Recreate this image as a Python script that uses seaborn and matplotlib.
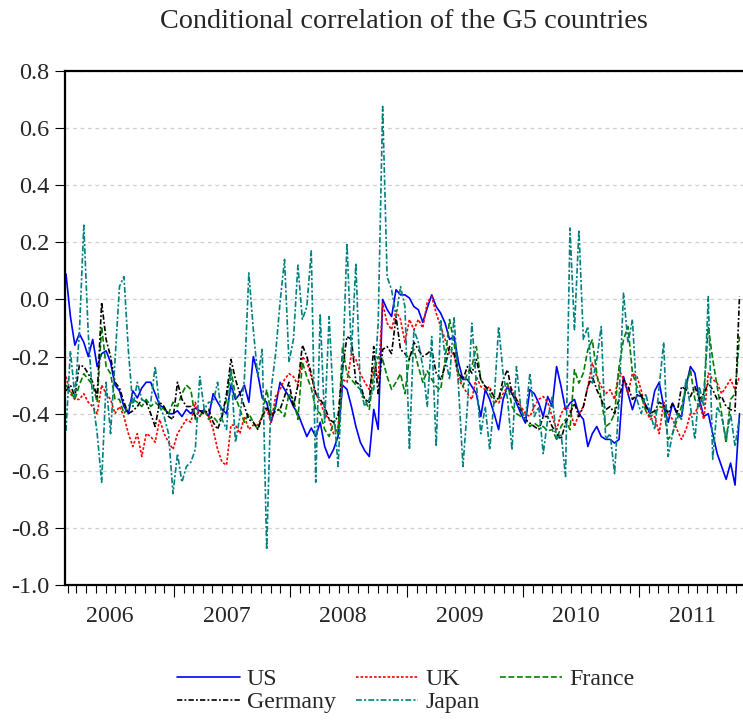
import numpy as np
import pandas as pd
import matplotlib
matplotlib.use("Agg")
import matplotlib.pyplot as plt
import matplotlib.dates as mdates
import seaborn as sns

# chart data (biweekly readings, late Jan 2006 - Nov 2011)
dates = pd.date_range(start="2006-01-27", periods=152, freq="14D")

us = [0.09, -0.06, -0.16, -0.12, -0.15, -0.20, -0.14, -0.235, -0.19, -0.18,
      -0.22, -0.30, -0.32, -0.375, -0.40, -0.32, -0.345, -0.31, -0.29, -0.29,
      -0.33, -0.37, -0.38, -0.40, -0.40, -0.39, -0.41, -0.385, -0.40, -0.38,
      -0.39, -0.39, -0.41, -0.33, -0.36, -0.385, -0.40, -0.30, -0.35, -0.33,
      -0.30, -0.36, -0.20, -0.26, -0.345, -0.36, -0.43, -0.375, -0.29, -0.315,
      -0.34, -0.375, -0.40, -0.44, -0.48, -0.45, -0.48, -0.43, -0.515, -0.555,
      -0.525, -0.48, -0.30, -0.315, -0.375, -0.445, -0.50, -0.53, -0.55, -0.385,
      -0.455, 0.0, -0.035, -0.06, 0.034, 0.016, 0.016, 0.005, -0.025, -0.036,
      -0.08, -0.03, 0.016, -0.025, -0.048, -0.083, -0.14, -0.13, -0.22, -0.28,
      -0.28, -0.305, -0.33, -0.41, -0.316, -0.35, -0.40, -0.456, -0.35, -0.305,
      -0.33, -0.363, -0.40, -0.433, -0.316, -0.33, -0.363, -0.41, -0.34, -0.375,
      -0.235, -0.305, -0.386, -0.363, -0.35, -0.40, -0.42, -0.515, -0.47, -0.445,
      -0.48, -0.49, -0.49, -0.503, -0.49, -0.27, -0.33, -0.386, -0.335, -0.34,
      -0.37, -0.40, -0.32, -0.29, -0.375, -0.43, -0.363, -0.40, -0.41, -0.305,
      -0.235, -0.258, -0.35, -0.41, -0.40, -0.47, -0.54, -0.585, -0.63, -0.573,
      -0.65, -0.40]

uk = [-0.27, -0.33, -0.35, -0.35, -0.33, -0.36, -0.375, -0.40, -0.30, -0.33,
      -0.35, -0.40, -0.375, -0.41, -0.47, -0.515, -0.47, -0.55, -0.47, -0.48,
      -0.50, -0.42, -0.47, -0.50, -0.525, -0.47, -0.445, -0.42, -0.43, -0.36,
      -0.41, -0.385, -0.41, -0.455, -0.525, -0.57, -0.58, -0.44, -0.44, -0.47,
      -0.41, -0.455, -0.44, -0.44, -0.41, -0.385, -0.43, -0.34, -0.315, -0.28,
      -0.26, -0.27, -0.30, -0.20, -0.22, -0.27, -0.33, -0.36, -0.40, -0.42,
      -0.47, -0.445, -0.28, -0.29, -0.19, -0.21, -0.26, -0.29, -0.315, -0.235,
      -0.28, -0.013, -0.083, -0.106, -0.04, -0.07, -0.15, -0.07, -0.106, -0.07,
      -0.10, -0.01, 0.01, -0.048, -0.095, -0.14, -0.19, -0.19, -0.28, -0.305,
      -0.33, -0.35, -0.27, -0.305, -0.316, -0.305, -0.35, -0.363, -0.33, -0.305,
      -0.316, -0.35, -0.375, -0.40, -0.41, -0.375, -0.35, -0.34, -0.36, -0.41,
      -0.456, -0.40, -0.375, -0.386, -0.445, -0.40, -0.375, -0.305, -0.223, -0.27,
      -0.305, -0.33, -0.316, -0.35, -0.246, -0.28, -0.33, -0.258, -0.27, -0.32,
      -0.39, -0.42, -0.41, -0.47, -0.36, -0.40, -0.42, -0.456, -0.49, -0.456,
      -0.40, -0.40, -0.363, -0.42, -0.258, -0.28, -0.293, -0.33, -0.305, -0.28,
      -0.316, -0.27]

france = [-0.30, -0.32, -0.35, -0.30, -0.26, -0.28, -0.30, -0.36, -0.095, -0.235,
          -0.26, -0.35, -0.35, -0.40, -0.375, -0.35, -0.36, -0.375, -0.35, -0.375,
          -0.36, -0.375, -0.385, -0.40, -0.36, -0.375, -0.33, -0.30, -0.315, -0.42,
          -0.41, -0.385, -0.42, -0.41, -0.43, -0.41, -0.35, -0.245, -0.34, -0.385,
          -0.43, -0.40, -0.43, -0.455, -0.41, -0.315, -0.40, -0.375, -0.39, -0.41,
          -0.33, -0.35, -0.42, -0.22, -0.27, -0.31, -0.385, -0.40, -0.455, -0.48,
          -0.43, -0.47, -0.165, -0.26, -0.28, -0.30, -0.315, -0.35, -0.385, -0.26,
          -0.20, -0.21, -0.27, -0.315, -0.29, -0.26, -0.33, -0.20, -0.175, -0.235,
          -0.29, -0.25, -0.28, -0.305, -0.316, -0.21, -0.07, -0.153, -0.258, -0.305,
          -0.258, -0.235, -0.165, -0.28, -0.305, -0.33, -0.363, -0.35, -0.305, -0.293,
          -0.375, -0.40, -0.41, -0.42, -0.445, -0.433, -0.445, -0.445, -0.46, -0.456,
          -0.49, -0.445, -0.42, -0.456, -0.246, -0.293, -0.258, -0.176, -0.141, -0.258,
          -0.35, -0.445, -0.433, -0.40, -0.235, -0.141, -0.095, -0.258, -0.305, -0.34,
          -0.39, -0.41, -0.40, -0.375, -0.38, -0.49, -0.47, -0.42, -0.375, -0.305,
          -0.246, -0.35, -0.375, -0.33, -0.095, -0.21, -0.305, -0.40, -0.503, -0.35,
          -0.33, -0.13]

germany = [-0.32, -0.30, -0.34, -0.23, -0.235, -0.26, -0.29, -0.34, -0.01, -0.14,
           -0.20, -0.29, -0.31, -0.36, -0.40, -0.39, -0.375, -0.35, -0.36, -0.40,
           -0.445, -0.36, -0.375, -0.41, -0.42, -0.29, -0.35, -0.375, -0.375, -0.41,
           -0.39, -0.40, -0.385, -0.43, -0.455, -0.41, -0.33, -0.21, -0.28, -0.33,
           -0.375, -0.42, -0.43, -0.455, -0.41, -0.375, -0.41, -0.39, -0.385, -0.34,
           -0.29, -0.375, -0.30, -0.16, -0.20, -0.26, -0.33, -0.35, -0.375, -0.42,
           -0.43, -0.41, -0.245, -0.13, -0.14, -0.29, -0.30, -0.35, -0.36, -0.165,
           -0.33, -0.175, -0.165, -0.19, -0.06, -0.175, -0.19, -0.21, -0.15, -0.175,
           -0.20, -0.19, -0.176, -0.258, -0.28, -0.235, -0.165, -0.19, -0.258, -0.28,
           -0.235, -0.258, -0.21, -0.28, -0.305, -0.316, -0.34, -0.35, -0.28, -0.246,
           -0.33, -0.35, -0.386, -0.42, -0.433, -0.445, -0.456, -0.41, -0.41, -0.445,
           -0.47, -0.49, -0.433, -0.40, -0.363, -0.41, -0.375, -0.305, -0.27, -0.316,
           -0.35, -0.386, -0.375, -0.40, -0.35, -0.28, -0.305, -0.35, -0.335, -0.335,
           -0.375, -0.40, -0.39, -0.36, -0.37, -0.40, -0.363, -0.40, -0.305, -0.316,
           -0.34, -0.305, -0.35, -0.33, -0.293, -0.316, -0.35, -0.34, -0.375, -0.386,
           -0.39, 0.01]

japan = [-0.46, -0.18, -0.34, -0.12, 0.26, -0.12, -0.35, -0.47, -0.64, -0.29,
         -0.47, -0.21, 0.045, 0.08, -0.18, -0.375, -0.29, -0.35, -0.36, -0.36,
         -0.235, -0.375, -0.41, -0.47, -0.68, -0.54, -0.64, -0.585, -0.57, -0.525,
         -0.27, -0.385, -0.36, -0.36, -0.29, -0.42, -0.455, -0.245, -0.50, -0.41,
         -0.28, 0.093, -0.105, -0.27, -0.175, -0.876, -0.315, -0.19, -0.01, 0.14,
         -0.22, -0.14, 0.12, -0.07, -0.025, 0.17, -0.64, -0.05, -0.43, -0.06,
         -0.375, -0.585, -0.26, 0.197, -0.19, 0.127, -0.315, -0.375, -0.35, -0.315,
         -0.083, 0.676, 0.08, 0.034, -0.06, 0.045, -0.025, -0.526, -0.106, -0.15,
         -0.235, -0.375, -0.13, -0.515, -0.07, -0.20, -0.28, -0.06, -0.305, -0.585,
         -0.375, -0.083, -0.293, -0.47, -0.375, -0.527, -0.35, -0.095, -0.258, -0.35,
         -0.527, -0.235, -0.386, -0.42, -0.258, -0.41, -0.375, -0.54, -0.42, -0.34,
         -0.49, -0.47, -0.62, 0.25, -0.106, 0.244, -0.14, -0.095, -0.293, -0.21,
         -0.095, -0.49, -0.47, -0.61, -0.35, 0.022, -0.153, -0.07, -0.35, -0.40,
         -0.33, -0.40, -0.456, -0.305, -0.15, -0.55, -0.47, -0.40, -0.42, -0.28,
         -0.375, -0.49, -0.305, -0.375, 0.01, -0.56, -0.375, -0.41, -0.49, -0.40,
         -0.515, -0.41]

countries = ["US", "UK", "France", "Germany", "Japan"]
year_labels = ["2006", "2007", "2008", "2009", "2010", "2011"]
y_ticks = [-1.0, -0.8, -0.6, -0.4, -0.2, 0.0, 0.2, 0.4, 0.6, 0.8]

colors = {"US": "#0000ff", "UK": "#ff0000", "France": "#008000",
          "Germany": "#000000", "Japan": "#008080"}
dash_map = {"US": "", "UK": (1.6, 1.1), "France": (3.5, 1.6),
            "Germany": (3.2, 1.3, 1.1, 1.3), "Japan": (3.5, 1.3, 1.3, 1.3)}

df = pd.concat([
    pd.DataFrame({"date": dates, "corr": vals, "country": name})
    for name, vals in zip(countries, [us, uk, france, germany, japan])
], ignore_index=True)

sns.set_style("white")
plt.rcParams["font.family"] = ["Liberation Serif", "DejaVu Serif"]
plt.rcParams["axes.unicode_minus"] = False

fig = plt.figure(figsize=(7.43, 7.21), dpi=100)
ax = fig.add_axes([65 / 743, 1 - 585 / 721, 1 - 65 / 743, 514 / 721])

sns.lineplot(data=df, x="date", y="corr", hue="country", style="country",
             hue_order=countries, style_order=countries, palette=colors,
             dashes=dash_map, linewidth=1.2, errorbar=None, sort=False, ax=ax)

handles, labels = ax.get_legend_handles_labels()
ax.get_legend().remove()
lookup = dict(zip(labels, handles))
leg_order = ["US", "Germany", "UK", "Japan", "France"]
fig.legend([lookup[k] for k in leg_order], leg_order, loc="center",
           bbox_to_anchor=(406 / 743, 1 - 691 / 721), ncol=3, frameon=False,
           fontsize=17.2, handlelength=2.6, handletextpad=0.3,
           columnspacing=0.85, labelspacing=0.05, borderpad=0)

# axes styling
ax.set_xlim(pd.Timestamp("2006-01-24"), pd.Timestamp("2011-11-22"))
ax.set_ylim(-1.0, 0.8)
ax.set_yticks(y_ticks)
ax.set_yticklabels([f"{v:.1f}" for v in y_ticks], fontsize=17.5)
ax.yaxis.grid(True, color="#cfcfcf", linestyle=(0, (3, 3)), linewidth=0.9)
ax.xaxis.grid(False)
ax.set_axisbelow(True)

ax.xaxis.set_major_locator(mdates.YearLocator())
ax.xaxis.set_minor_locator(mdates.MonthLocator())
ax.tick_params(axis="x", which="major", direction="out", length=8.5, width=0.8,
               color="black", labelbottom=False, bottom=True)
ax.tick_params(axis="x", which="minor", direction="out", length=5.5, width=0.8,
               color="black", bottom=True)
ax.tick_params(axis="y", direction="out", length=7, width=0.8, color="black",
               pad=4.5, left=True)

for lab in year_labels:
    ax.text(pd.Timestamp(f"{lab}-06-15"), -0.061, lab, transform=ax.get_xaxis_transform(),
            ha="center", va="center", fontsize=17.2)

for side in ["left", "top", "bottom"]:
    ax.spines[side].set_visible(True)
    ax.spines[side].set_color("black")
    ax.spines[side].set_linewidth(1.6)
ax.spines["right"].set_visible(False)

ax.set_xlabel("")
ax.set_ylabel("")
ax.set_title("Conditional correlation of the G5 countries", fontsize=20.3, pad=31)

fig.savefig("out.png", dpi=100)
